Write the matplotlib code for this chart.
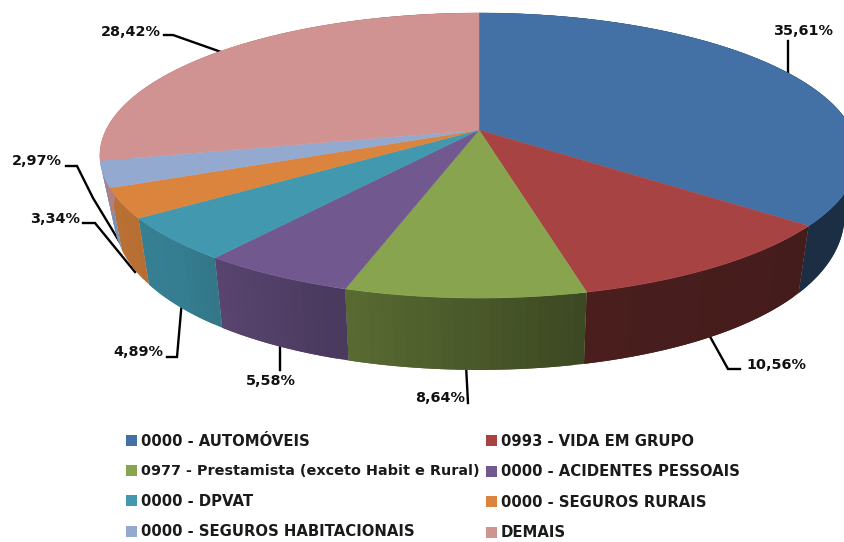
import numpy as np
import matplotlib
matplotlib.use("Agg")
import matplotlib.pyplot as plt
from matplotlib.patches import Polygon, Patch
from matplotlib.colors import to_rgb

categories = ["0000 - AUTOMÓVEIS", "0993 - VIDA EM GRUPO",
              "0977 - Prestamista (exceto Habit e Rural)", "0000 - ACIDENTES PESSOAIS",
              "0000 - DPVAT", "0000 - SEGUROS RURAIS",
              "0000 - SEGUROS HABITACIONAIS", "DEMAIS"]
shares = [35.61, 10.56, 8.64, 5.58, 4.89, 3.34, 2.97, 28.42]
share_labels = ["35,61%", "10,56%", "8,64%", "5,58%", "4,89%", "3,34%", "2,97%", "28,42%"]
colors = ["#4471A5", "#A74443", "#89A44E", "#71588F", "#4198AF", "#DB843D", "#93A9CF", "#D19392"]

# label centre and leader line, in pixels of the 844x542 picture
label_xy = [(803, 31), (776, 365), (440, 398), (271, 381), (138, 352), (55, 219), (37, 161), (131, 32)]
leaders = [[(788, 41), (788, 75)],
           [(740, 369), (728, 369), (708, 333)],
           [(468, 403), (466, 365)],
           [(280, 370), (280, 343)],
           [(167, 357), (177, 357), (182, 300)],
           [(83, 223), (95, 223), (135, 272)],
           [(66, 166), (77, 166), (93, 198), (119, 241)],
           [(164, 35), (173, 35), (224, 53)]]

CX, CY = 479, 130
A, B, K = 373, 138, 0.179         # top face projection
A2, B2, K2, DROP = 359, 170, 0.10, 51   # bottom rim projection


def top_xy(t):
    X, Y = np.cos(t), np.sin(t)
    d = 1 + K * Y
    return CX + A * X / d, CY - B * Y / d


def bottom_xy(t):
    X, Y = np.cos(t), np.sin(t)
    return CX + A2 * X / (1 + 0.19 * Y), CY - (B2 * Y / (1 + K2 * Y) - DROP)


def wall_shade(t):
    return np.interp(np.cos(t), [-1, -0.7, -0.35, 0.24, 1], [0.86, 0.82, 0.67, 0.44, 0.40])


fig = plt.figure(figsize=(8.44, 5.42), dpi=100, facecolor="white")
ax = fig.add_axes([0, 0, 1, 1])
ax.set_xlim(0, 844)
ax.set_ylim(542, 0)
ax.axis("off")

fractions = np.array(shares) / sum(shares)
edges = np.pi / 2 - 2 * np.pi * np.concatenate([[0], np.cumsum(fractions)])

# leader lines lie behind the pie
for pts in leaders:
    xs, ys = zip(*pts)
    ax.plot(xs, ys, color="black", lw=1.7, solid_joinstyle="miter", zorder=1)

# side wall: overlapping shaded strips, each reaching under the next one
for i, col in enumerate(colors):
    ts = np.linspace(edges[i], edges[i + 1], max(int(abs(edges[i + 1] - edges[i]) * 40), 4))
    for j in range(len(ts) - 1):
        a, far = ts[j], ts[min(j + 2, len(ts) - 1)]
        arc = np.linspace(a, far, 6)
        fc = tuple(c * wall_shade((ts[j] + ts[j + 1]) / 2) for c in to_rgb(col))
        xt, yt = top_xy(arc)
        xb, yb = bottom_xy(arc)
        quad = np.column_stack([np.r_[xt, xb[::-1]], np.r_[yt, yb[::-1]]])
        ax.add_patch(Polygon(quad, closed=True, fc=fc, ec="none", zorder=2))

# top face
for i, col in enumerate(colors):
    ts = np.linspace(edges[i], edges[i + 1], 150)
    x, y = top_xy(ts)
    pts = np.column_stack([np.r_[CX, x], np.r_[CY, y]])
    ax.add_patch(Polygon(pts, closed=True, fc=col, ec=col, lw=0.3, zorder=3))

for text, (x, y) in zip(share_labels, label_xy):
    ax.text(x, y, text, ha="center", va="center", fontsize=10.4, fontweight="bold",
            family="DejaVu Sans", color="#111111", zorder=5)

order = [0, 2, 4, 6, 1, 3, 5, 7]
handles = [Patch(fc=colors[i], ec="none", label=categories[i]) for i in order]
leg = ax.legend(handles=handles, ncol=2, loc="upper left", bbox_to_anchor=(126 / 844, 1 - 434 / 542),
                frameon=False, prop={"family": "DejaVu Sans", "size": 10.7, "weight": "bold"},
                borderpad=0, borderaxespad=0, handlelength=0.75, handleheight=0.75,
                handletextpad=0.27, columnspacing=0.4, labelspacing=1.04,
                labelcolor="#1a1a1a")
leg.get_texts()[1].set_fontsize(10.35)

fig.savefig("out.png", dpi=100, facecolor="white")
